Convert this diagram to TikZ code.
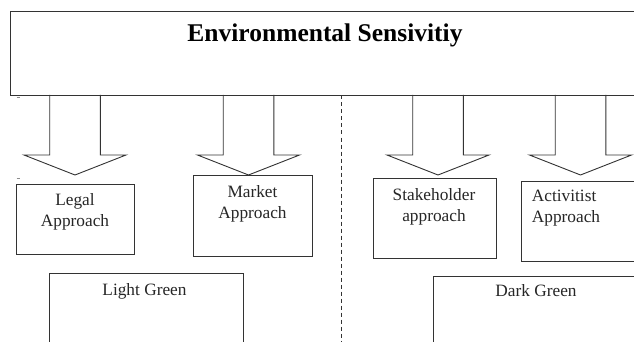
\documentclass[tikz,border=0pt]{standalone}
\usepackage{fontspec}
\setmainfont{Liberation Serif}
\begin{document}
\begin{tikzpicture}[x=1pt,y=-1pt,
  outline/.style={draw=black!80,line width=0.9pt},
  boxnode/.style={outline,anchor=north west,inner sep=0pt,minimum width=#1},
  txt/.style={font=\fontsize{17.3}{21.5}\selectfont,align=center,inner sep=0pt,text=black!85},
  divider/.style={draw=black!80,line width=0.8pt,dash pattern=on 4pt off 3pt},
  tick/.style={draw=black!45,line width=0.6pt}]
\useasboundingbox (0,0) rectangle (634,342);
\clip (0,0) rectangle (634,342);
\fill[white] (0,0) rectangle (634,342);

% block arrows
\newcommand\myBlockArrow[1]{%
  \draw[outline,line join=miter] (#1-25.3,95) -- (#1-25.3,155) -- (#1-51,155) -- (#1,175) -- (#1+51,155) -- (#1+25.3,155) -- (#1+25.3,95);}
\myBlockArrow{75}
\myBlockArrow{248.5}
\myBlockArrow{438}
\myBlockArrow{580.5}

% top box
\node[outline,anchor=north west,minimum width=680pt,minimum height=84pt,inner sep=0pt] (top) at (9.5,11) {};
\node[font=\fontsize{25.5}{30}\selectfont\bfseries,inner sep=0pt] (title) at (325,35) {Environmental Sensivitiy};

% divider
\coordinate (dtop) at (341,95.5);
\coordinate (dbot) at (341,345);
\draw[divider] (dtop) -- (dbot);

% approach boxes
\node[boxnode=118pt,minimum height=70pt] (legal) at (16,184) {};
\node[txt] (legalt) at (75,212) {Legal\\Approach};

\node[boxnode=119pt,minimum height=81pt] (market) at (193,175) {};
\node[txt] (markett) at (252.5,204) {Market\\Approach};

\node[boxnode=123pt,minimum height=80pt] (stake) at (373,178) {};
\node[txt] (staket) at (434,207) {Stakeholder\\approach};

\node[boxnode=140pt,minimum height=80pt] (activ) at (521,181) {};
\node[txt,align=left] (activt) at (566,208) {Activitist\\Approach};

% green boxes
\node[boxnode=194pt,minimum height=100pt] (light) at (49,273) {};
\node[txt] (lightt) at (144.5,291) {Light Green};

\node[boxnode=240pt,minimum height=100pt] (dark) at (433,276) {};
\node[txt] (darkt) at (536,291) {Dark Green};

% small stray marks
\draw[tick] (16.5,97.7) -- (20,97.7);
\draw[tick] (16.5,177.8) -- (20,177.8);
\end{tikzpicture}
\end{document}
